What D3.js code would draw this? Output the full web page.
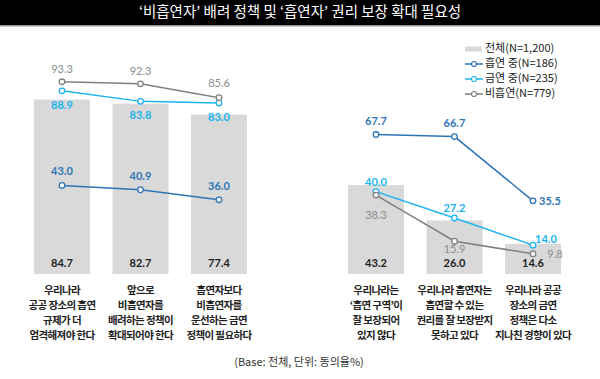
<!DOCTYPE html>
<html>
<head>
<meta charset="utf-8">
<script src="https://cdn.jsdelivr.net/npm/d3@7"></script>
<style>
  body { margin: 0; background: #fff; }
  text { font-family: "Noto Sans CJK KR", "Noto Sans", sans-serif; }
  .num { font-family: Lato, "Noto Sans", sans-serif; }
</style>
</head>
<body>
<div id="main"></div>
<script>
var categories = ["c0", "c1", "c2", "c3", "c4", "c5"];
var catLabels = [
  ["우리나라", "공공 장소의 흡연", "규제가 더", "엄격해져야 한다"],
  ["앞으로", "비흡연자를", "배려하는 정책이", "확대되어야 한다"],
  ["흡연자보다", "비흡연자를", "운선하는 금연", "정책이 필요하다"],
  ["우리나라는", "‘흡연 구역’이", "잘 보장되어", "있지 않다"],
  ["우리나라 흡연자는", "흡연할 수 있는", "권리를 잘 보장받지", "못하고 있다"],
  ["우리나라 공공", "장소의 금연", "정책은 다소", "지나친 경향이 있다"]
];
var total   = [84.7, 82.7, 77.4, 43.2, 26.0, 14.6];
var smoking = [43.0, 40.9, 36.0, 67.7, 66.7, 35.5];
var quit    = [88.9, 83.8, 83.0, 40.0, 27.2, 14.0];
var never   = [93.3, 92.3, 85.6, 38.3, 15.9, 9.8];
var legendNames = ["전체(N=1,200)", "흡연 중(N=186)", "금연 중(N=235)", "비흡연(N=779)"];
var title = "‘비흡연자’ 배려 정책 및 ‘흡연자’ 권리 보장 확대 필요성";
var footnote = "(Base: 전체, 단위: 동의율%)";

var width = 600, height = 379;
var barColor = "#d9d9d9";

// label offsets (dx, dy) from each point
var series = [
  {name: "smoking", values: smoking, color: "#2e75b6", textColor: "#2e75b6",
   offs: [[0,-13],[0,-13],[0,-13],[0,-12],[0,-12],[17,1]]},
  {name: "quit", values: quit, color: "#1cb4f0", textColor: "#1cb4f0",
   offs: [[0,15],[0,15],[0,15],[0,-8],[0,-9],[13,-5]]},
  {name: "never", values: never, color: "#808080", textColor: "#8c8c8c",
   offs: [[0,-12],[0,-12],[0,-13],[0,21],[0,9],[22,1]]}
];

var svg = d3.select("#main").append("svg")
    .attr("width", width)
    .attr("height", height);

// title bar
svg.append("rect").attr("x", 0).attr("y", 0).attr("width", width).attr("height", 25).attr("fill", "#000");
svg.append("rect").attr("x", 0).attr("y", 25).attr("width", width).attr("height", 1.5).attr("fill", "#9a9a9a");
svg.append("text")
    .attr("x", 300).attr("y", 13.5)
    .attr("text-anchor", "middle")
    .attr("dominant-baseline", "middle")
    .attr("fill", "#fff")
    .style("font-size", "14.5px")
    .text(title);

// spacer slot between the two groups
var slots = ["c0", "c1", "c2", "gap", "c3", "c4", "c5"];
var x = d3.scaleBand()
    .domain(slots)
    .range([22.75, 572.25])
    .paddingInner(0.2866)
    .paddingOuter(0.1433);

var y = d3.scaleLinear()
    .domain([0, 100])
    .range([274, 68]);

var cx = function(i){ return x(categories[i]) + x.bandwidth()/2; };

svg.selectAll(".bar")
    .data(total)
    .enter().append("rect")
    .attr("class", "bar")
    .attr("x", function(d,i){ return x(categories[i]); })
    .attr("y", function(d){ return y(d); })
    .attr("width", x.bandwidth())
    .attr("height", function(d){ return y(0) - y(d); })
    .attr("fill", barColor);

svg.selectAll(".barval")
    .data(total)
    .enter().append("text")
    .attr("class", "barval num")
    .attr("x", function(d,i){ return cx(i); })
    .attr("y", 264)
    .attr("text-anchor", "middle")
    .attr("dominant-baseline", "middle")
    .attr("fill", "#222")
    .style("font-size", "11px")
    .style("font-weight", "bold")
    .text(function(d){ return d.toFixed(1); });

var line = d3.line()
    .x(function(d){ return cx(d.i); })
    .y(function(d){ return y(d.v); });

series.forEach(function(s){
  var pts = s.values.map(function(v,i){ return {v: v, i: i}; });
  [pts.slice(0,3), pts.slice(3,6)].forEach(function(seg){
    svg.append("path")
        .datum(seg)
        .attr("d", line)
        .attr("fill", "none")
        .attr("stroke", s.color)
        .attr("stroke-width", 1.5);
  });
  svg.selectAll(".pt-" + s.name)
      .data(pts)
      .enter().append("circle")
      .attr("class", "pt-" + s.name)
      .attr("cx", function(d){ return cx(d.i); })
      .attr("cy", function(d){ return y(d.v); })
      .attr("r", 2.8)
      .attr("fill", "#fff")
      .attr("stroke", s.color)
      .attr("stroke-width", 1.3);
  svg.selectAll(".lab-" + s.name)
      .data(pts)
      .enter().append("text")
      .attr("class", "num lab-" + s.name)
      .attr("x", function(d){ return cx(d.i) + s.offs[d.i][0]; })
      .attr("y", function(d){ return y(d.v) + s.offs[d.i][1]; })
      .attr("text-anchor", "middle")
      .attr("dominant-baseline", "middle")
      .attr("fill", s.textColor)
      .style("font-size", "11px")
      .style("font-weight", s.name == "never" ? "normal" : "bold")
      .text(function(d){ return d.v.toFixed(1); });
});

// category labels
var cats = svg.selectAll(".cat")
    .data(catLabels)
    .enter().append("text")
    .attr("class", "cat")
    .attr("text-anchor", "middle")
    .attr("fill", "#222")
    .style("font-size", "10.5px")
    .style("font-weight", "bold")
    .style("letter-spacing", "-0.6px");
cats.selectAll("tspan")
    .data(function(d,i){ return d.map(function(t){ return {t: t, i: i}; }); })
    .enter().append("tspan")
    .attr("x", function(d){ return cx(d.i); })
    .attr("y", function(d,j){ return 294 + j*15; })
    .text(function(d){ return d.t; });

// legend
var legend = svg.append("g").attr("transform", "translate(465,49)");
legendNames.forEach(function(name, i){
  var g = legend.append("g").attr("transform", "translate(0," + (i*15) + ")");
  if (i == 0) {
    g.append("rect").attr("x", 0).attr("y", -2.5).attr("width", 17).attr("height", 5).attr("fill", barColor);
  } else {
    var c = series[i-1].color;
    g.append("line").attr("x1", 0).attr("x2", 18).attr("y1", 0).attr("y2", 0)
        .attr("stroke", c).attr("stroke-width", 1.5);
    g.append("circle").attr("cx", 9).attr("cy", 0).attr("r", 2.5)
        .attr("fill", "#fff").attr("stroke", c).attr("stroke-width", 1.2);
  }
  g.append("text")
      .attr("x", 20).attr("y", 0.5)
      .attr("dominant-baseline", "middle")
      .attr("fill", "#222")
      .style("font-size", "11px")
      .text(name);
});

svg.append("text")
    .attr("x", 299).attr("y", 363)
    .attr("text-anchor", "middle")
    .attr("dominant-baseline", "middle")
    .attr("fill", "#333")
    .style("font-size", "11px")
    .text(footnote);
</script>
</body>
</html>
